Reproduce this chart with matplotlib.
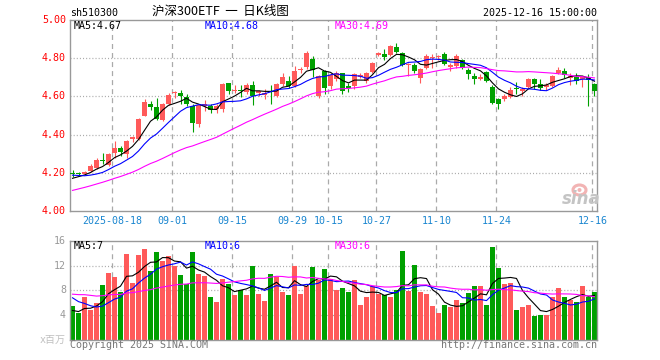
import matplotlib
matplotlib.use("Agg")
import matplotlib.pyplot as plt
from matplotlib.patches import Ellipse
import numpy as np
import pandas as pd

plt.rcParams["lines.scale_dashes"] = False

# ---------------- data ----------------
all_days = pd.bdate_range("2025-08-07", "2025-12-16")
golden_week = pd.date_range("2025-10-01", "2025-10-08")
dates = all_days[~all_days.isin(golden_week)]

open_ = [4.200, 4.197, 4.194, 4.210, 4.226, 4.265, 4.243, 4.302, 4.329, 4.300,
         4.376, 4.378, 4.500, 4.558, 4.545, 4.477, 4.558, 4.616, 4.620, 4.597,
         4.550, 4.455, 4.550, 4.550, 4.534, 4.534, 4.668, 4.628, 4.636, 4.623,
         4.658, 4.620, 4.605, 4.628, 4.602, 4.666, 4.680, 4.652, 4.738, 4.752,
         4.795, 4.600, 4.732, 4.655, 4.690, 4.720, 4.652, 4.653, 4.700, 4.680,
         4.730, 4.817, 4.820, 4.815, 4.860, 4.827, 4.765, 4.762, 4.694, 4.747,
         4.800, 4.805, 4.820, 4.755, 4.759, 4.788, 4.736, 4.707, 4.690, 4.727,
         4.651, 4.588, 4.585, 4.597, 4.640, 4.628, 4.651, 4.690, 4.667, 4.650,
         4.655, 4.724, 4.733, 4.695, 4.700, 4.690, 4.694, 4.663]
high = [4.214, 4.205, 4.210, 4.245, 4.280, 4.306, 4.305, 4.364, 4.340, 4.370,
        4.392, 4.485, 4.585, 4.575, 4.590, 4.568, 4.618, 4.630, 4.635, 4.610,
        4.560, 4.562, 4.580, 4.560, 4.560, 4.672, 4.670, 4.660, 4.660, 4.672,
        4.680, 4.635, 4.637, 4.658, 4.672, 4.722, 4.706, 4.760, 4.756, 4.840,
        4.810, 4.710, 4.740, 4.720, 4.735, 4.725, 4.670, 4.725, 4.720, 4.728,
        4.780, 4.835, 4.850, 4.868, 4.877, 4.830, 4.775, 4.775, 4.750, 4.820,
        4.820, 4.818, 4.830, 4.775, 4.820, 4.795, 4.750, 4.724, 4.715, 4.735,
        4.660, 4.590, 4.612, 4.650, 4.677, 4.650, 4.698, 4.695, 4.690, 4.672,
        4.712, 4.754, 4.747, 4.724, 4.724, 4.702, 4.715, 4.672]
low = [4.180, 4.185, 4.190, 4.205, 4.222, 4.246, 4.235, 4.280, 4.290, 4.280,
       4.360, 4.370, 4.495, 4.530, 4.475, 4.470, 4.555, 4.590, 4.560, 4.550,
       4.414, 4.440, 4.525, 4.512, 4.515, 4.520, 4.615, 4.616, 4.598, 4.615,
       4.556, 4.600, 4.588, 4.562, 4.598, 4.655, 4.645, 4.650, 4.720, 4.745,
       4.700, 4.590, 4.610, 4.640, 4.680, 4.615, 4.625, 4.640, 4.695, 4.672,
       4.725, 4.810, 4.790, 4.810, 4.825, 4.760, 4.707, 4.723, 4.672, 4.745,
       4.750, 4.790, 4.765, 4.735, 4.750, 4.745, 4.690, 4.667, 4.684, 4.675,
       4.560, 4.533, 4.575, 4.593, 4.615, 4.602, 4.642, 4.637, 4.632, 4.632,
       4.650, 4.716, 4.698, 4.660, 4.663, 4.650, 4.550, 4.603]
close = [4.196, 4.193, 4.205, 4.235, 4.268, 4.262, 4.300, 4.332, 4.307, 4.367,
         4.386, 4.480, 4.572, 4.545, 4.480, 4.562, 4.607, 4.623, 4.600, 4.558,
         4.462, 4.557, 4.558, 4.530, 4.550, 4.666, 4.628, 4.634, 4.626, 4.658,
         4.600, 4.628, 4.620, 4.625, 4.666, 4.700, 4.655, 4.732, 4.745, 4.828,
         4.740, 4.705, 4.645, 4.712, 4.722, 4.630, 4.645, 4.718, 4.712, 4.720,
         4.773, 4.829, 4.805, 4.864, 4.830, 4.762, 4.770, 4.733, 4.745, 4.810,
         4.805, 4.812, 4.770, 4.764, 4.814, 4.750, 4.715, 4.690, 4.700, 4.680,
         4.568, 4.559, 4.602, 4.632, 4.637, 4.637, 4.690, 4.667, 4.646, 4.660,
         4.707, 4.736, 4.712, 4.705, 4.680, 4.700, 4.684, 4.628]
volume = [5.4, 4.3, 6.9, 4.8, 6.0, 8.8, 10.8, 10.1, 7.7, 13.9,
          9.2, 13.7, 14.7, 11.1, 14.2, 12.7, 13.6, 12.0, 10.5, 9.1,
          14.2, 10.6, 10.3, 6.9, 6.1, 9.8, 9.0, 7.2, 8.0, 7.2,
          12.0, 7.4, 6.3, 10.6, 10.2, 7.8, 7.2, 12.0, 7.4, 8.7,
          11.8, 9.6, 11.5, 9.9, 8.1, 8.3, 7.7, 9.6, 5.6, 7.0,
          8.7, 7.4, 7.2, 6.9, 8.1, 14.4, 7.9, 12.1, 7.7, 7.4,
          5.4, 4.4, 5.6, 5.3, 6.4, 5.9, 7.5, 8.7, 8.7, 5.6,
          15.0, 11.6, 9.0, 9.2, 4.8, 5.3, 5.7, 3.9, 4.0, 4.0,
          7.0, 8.3, 7.0, 6.4, 6.2, 8.7, 6.9, 7.7]

# sessions before the visible window (only feed the moving averages)
prior_close = [3.96, 3.97, 3.98, 3.99, 3.99, 4.00, 4.01, 4.02, 4.03, 4.04,
               4.06, 4.08, 4.10, 4.12, 4.13, 4.15, 4.16, 4.18, 4.19, 4.20,
               4.21, 4.22, 4.20, 4.21, 4.18, 4.15, 4.16, 4.17, 4.18]
prior_volume = [6.5, 7.2, 8.0, 9.5, 7.0, 6.8, 8.2, 7.5, 6.9, 7.4,
                8.8, 9.2, 7.1, 6.6, 7.9, 8.4, 7.3, 6.9, 8.1, 8.2,
                10.5, 9.8, 8.5, 8.0, 7.4, 5.2, 4.4, 4.6, 4.2]

tick_dates = ["2025-08-18", "2025-09-01", "2025-09-15", "2025-09-29", "2025-10-15",
              "2025-10-27", "2025-11-10", "2025-11-24", "2025-12-16"]
tick_labels = ["2025-08-18", "09-01", "09-15", "09-29", "10-15",
               "10-27", "11-10", "11-24", "12-16"]
price_ticks = [5.00, 4.80, 4.60, 4.40, 4.20, 4.00]
vol_ticks = [16, 12, 8, 4]
ma_price_labels = ["MA5:4.67", "MA10:4.68", "MA30:4.69"]
ma_vol_labels = ["MA5:7", "MA10:6", "MA30:6"]
symbol = "sh510300"
title = "沪深300ETF  一  日K线图"
timestamp = "2025-12-16 15:00:00"

# ---------------- styling ----------------
RED = "#ff5a5a"
GREEN = "#00a000"
MA_COLORS = ["black", "#0000ff", "#ff00ff"]
GRID = "#aaaaaa"
FRAME = "#999999"
MONO = "DejaVu Sans Mono"
FS = 7.2
W, H = 660, 360


def fx(x):
    return x / W


def fy(y):
    return 1 - y / H


n = len(close)
x = np.arange(n)
o = np.array(open_)
c = np.array(close)
hi = np.array(high)
lo = np.array(low)
v = np.array(volume)
up = c >= o
colors = np.where(up, RED, GREEN)

c_all = pd.Series(prior_close + close)
v_all = pd.Series(prior_volume + volume)
npre = len(prior_close)
ma_p = [c_all.rolling(k).mean().values[npre:] for k in (5, 10, 30)]
ma_v = [v_all.rolling(k).mean().values[len(prior_volume):] for k in (5, 10, 30)]

tick_pos = [int(np.where(dates == pd.Timestamp(d))[0][0]) for d in tick_dates]

fig = plt.figure(figsize=(6.6, 3.6), dpi=100)
fig.patch.set_facecolor("white")

ax1 = fig.add_axes([fx(70), fy(211), 527 / W, 191 / H])
ax2 = fig.add_axes([fx(70), fy(340), 527 / W, 99.3 / H])

xl = (-0.42, n - 0.58)
for ax in (ax1, ax2):
    ax.set_xlim(*xl)
    ax.set_xticks([])
    ax.set_yticks([])
    for s in ax.spines.values():
        s.set_color(FRAME)
        s.set_linewidth(1.0)
    for tp in tick_pos:
        ax.axvline(tp - 0.42, color=GRID, lw=0.9, ls=(0, (3.6, 2.9)), zorder=0)

ax1.set_ylim(4.0, 5.0)
ax2.set_ylim(0, 16)

for p in price_ticks:
    if 4.0 < p < 5.0:
        ax1.axhline(p, color=GRID, lw=0.9, ls=(0, (0.75, 1.5)), zorder=0)
for t in vol_ticks:
    if 0 < t < 16:
        ax2.axhline(t, color=GRID, lw=0.9, ls=(0, (0.75, 1.5)), zorder=0)

# candles
body_lo = np.minimum(o, c)
body_h = np.maximum(np.abs(c - o), 0.005)
ax1.vlines(x, lo, hi, colors=colors, lw=0.8, zorder=2)
ax1.bar(x, body_h, bottom=body_lo, width=0.78, color=colors, linewidth=0, zorder=3)
for m, col in zip(ma_p, MA_COLORS):
    ax1.plot(x, m, color=col, lw=0.8, zorder=4)

# volume
ax2.bar(x, v, width=0.82, color=colors, linewidth=0, zorder=2)
for m, col in zip(ma_v, MA_COLORS):
    ax2.plot(x, m, color=col, lw=0.8, zorder=4)

# labels
for p in price_ticks:
    ypx = 20 + (5.0 - p) * 191
    fig.text(fx(66), fy(ypx), f"{p:.2f}", color="#ff0000", family=MONO,
             fontsize=FS, ha="right", va="center")
for t in vol_ticks:
    ypx = 340 - t * 99.3 / 16
    fig.text(fx(66), fy(ypx), f"{t}", color="#999999", family=MONO,
             fontsize=FS, ha="right", va="center")
fig.text(fx(66), fy(339.5), "x百万", color="#c0c0c0",
         family=[MONO, "Noto Sans CJK SC"], fontsize=FS, ha="right", va="center")

for tp, lab in zip(tick_pos, tick_labels):
    xpx = 70 + (tp - xl[0] - 0.42) * 6 + 0.3
    fig.text(fx(xpx), fy(221), lab, color="#1a86d0", family=MONO,
             fontsize=FS, ha="center", va="center")

for lab, col, xpx in zip(ma_price_labels, MA_COLORS, (74, 205, 335)):
    fig.text(fx(xpx), fy(26), lab, color=col, family=MONO, fontsize=FS,
             ha="left", va="center")
for lab, col, xpx in zip(ma_vol_labels, MA_COLORS, (74, 205, 335)):
    fig.text(fx(xpx), fy(246), lab, color=col, family=MONO, fontsize=FS,
             ha="left", va="center")

fig.text(fx(70), fy(12.5), symbol, color="black", family=MONO, fontsize=FS,
         ha="left", va="center")
fig.text(fx(220), fy(11.5), title, color="black",
         family=["Noto Sans CJK SC", "DejaVu Sans"], fontsize=9, ha="center", va="center")
fig.text(fx(597), fy(12.5), timestamp, color="black", family=MONO, fontsize=FS,
         ha="right", va="center")
fig.text(fx(70), fy(345.5), "Copyright 2025 SINA.COM", color="#777777", family=MONO,
         fontsize=FS, ha="left", va="center")
fig.text(fx(597), fy(345.5), "http://finance.sina.com.cn", color="#777777", family=MONO,
         fontsize=FS, ha="right", va="center")

# sina watermark: pink "eye" ring behind grey italic wordmark
fig.add_artist(Ellipse((fx(579.5), fy(190)), 13 / W, 10 / H, transform=fig.transFigure,
                       facecolor="none", edgecolor="#f2b4b4", linewidth=2.2, zorder=1))
fig.add_artist(Ellipse((fx(579.5), fy(190)), 4 / W, 4 / H, transform=fig.transFigure,
                       facecolor="#f2b4b4", edgecolor="none", zorder=1))
fig.text(fx(581), fy(198.5), "sina", color="#c4c4c4", fontsize=12, fontweight="bold",
         style="italic", ha="center", va="center", family="DejaVu Sans", zorder=2)

fig.savefig("out.png", dpi=100)
